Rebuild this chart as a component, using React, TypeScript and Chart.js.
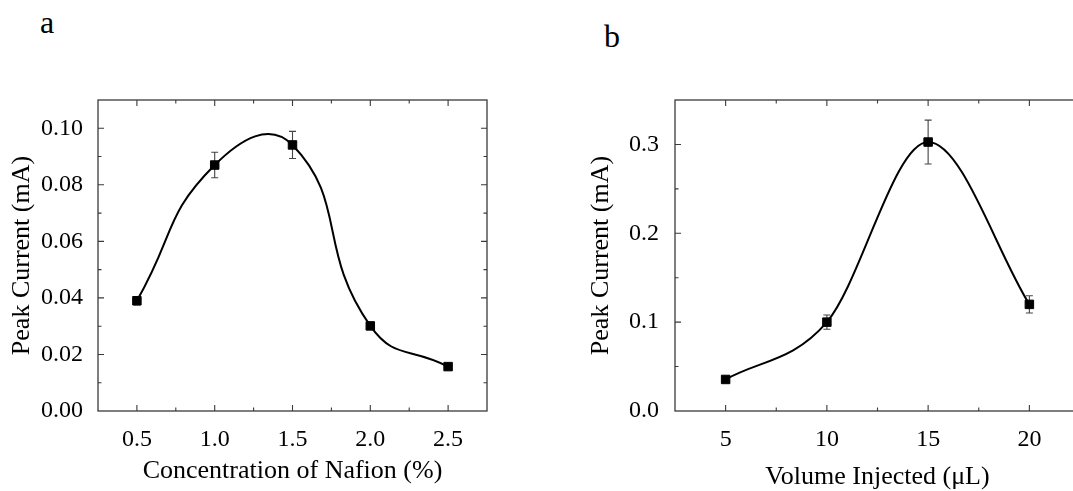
import React, { useEffect, useRef } from "react";
import { Chart, registerables } from "chart.js";

Chart.register(...registerables);

// ---- Data (panel a) ----
const nafionConcentration = [0.5, 1.0, 1.5, 2.0, 2.5];
const nafionPeakCurrent = [0.039, 0.087, 0.0941, 0.0301, 0.0157];
const nafionError = [0.0015, 0.0045, 0.0048, 0.001, 0.0007];
const nafionXTicks = [0.5, 1.0, 1.5, 2.0, 2.5];
const nafionYTicks = [0.0, 0.02, 0.04, 0.06, 0.08, 0.1];

// ---- Data (panel b) ----
const volumeInjected = [5, 10, 15, 20];
const volumePeakCurrent = [0.0355, 0.1, 0.3027, 0.12];
const volumeError = [0.002, 0.008, 0.0247, 0.0097];
const volumeXTicks = [5, 10, 15, 20];
const volumeYTicks = [0.0, 0.1, 0.2, 0.3];

const FONT = "'Liberation Serif', 'Times New Roman', serif";

const frameTicksPlugin = {
  id: "frameTicks",
  beforeDatasetsDraw(chart: any) {
    const { ctx, chartArea } = chart;
    const { left, right, top, bottom } = chartArea;
    const xs = chart.scales.x;
    const ys = chart.scales.y;
    ctx.save();
    ctx.strokeStyle = "#3a3a3a";
    ctx.lineWidth = 1.3;
    ctx.strokeRect(left, top, right - left, bottom - top);
    ctx.lineWidth = 1.1;
    const majorLen = 6;
    const minorLen = 3.5;
    const drawAxisTicks = (scale: any, horizontal: boolean) => {
      const majors = scale.ticks.map((t: any) => t.value);
      const step = majors[1] - majors[0];
      const half = step / 2;
      const kMin = Math.ceil(scale.min / half - 1e-6);
      const kMax = Math.floor(scale.max / half + 1e-6);
      for (let k = kMin; k <= kMax; k++) {
        const v = k * half;
        const isMajor = majors.some((m: number) => Math.abs(m - v) < half * 0.01);
        const len = isMajor ? majorLen : minorLen;
        const p = scale.getPixelForValue(v);
        ctx.beginPath();
        if (horizontal) {
          if (p <= left + 1 || p >= right - 1) continue;
          ctx.moveTo(p, bottom);
          ctx.lineTo(p, bottom - len);
          ctx.moveTo(p, top);
          ctx.lineTo(p, top + len);
        } else {
          if (p >= bottom - 1 || p <= top + 1) continue;
          ctx.moveTo(left, p);
          ctx.lineTo(left + len, p);
          ctx.moveTo(right, p);
          ctx.lineTo(right - len, p);
        }
        ctx.stroke();
      }
    };
    drawAxisTicks(xs, true);
    drawAxisTicks(ys, false);
    ctx.restore();
  },
};

const errorBarsPlugin = {
  id: "errorBars",
  beforeDatasetsDraw(chart: any, _args: any, opts: any) {
    const errors: number[] = opts && opts.errors ? opts.errors : [];
    const { ctx } = chart;
    const xs = chart.scales.x;
    const ys = chart.scales.y;
    const data = chart.data.datasets[0].data as any[];
    ctx.save();
    ctx.strokeStyle = "#444";
    ctx.lineWidth = 1.1;
    data.forEach((pt: any, i: number) => {
      const e = errors[i] || 0;
      const x = xs.getPixelForValue(pt.x);
      const y1 = ys.getPixelForValue(pt.y + e);
      const y2 = ys.getPixelForValue(pt.y - e);
      const cap = 3.5;
      ctx.beginPath();
      ctx.moveTo(x, y1);
      ctx.lineTo(x, y2);
      ctx.moveTo(x - cap, y1);
      ctx.lineTo(x + cap, y1);
      ctx.moveTo(x - cap, y2);
      ctx.lineTo(x + cap, y2);
      ctx.stroke();
    });
    ctx.restore();
  },
};

type PanelCfg = {
  xValues: number[];
  yValues: number[];
  errors: number[];
  xTicks: number[];
  yTicks: number[];
  xMin: number;
  xMax: number;
  yMin: number;
  yMax: number;
  xDecimals: number;
  yDecimals: number;
  xTitle: string;
  yTitle: string;
  paddingRight: number;
  yTitlePad: number;
  xTitlePad: number;
  yTickPad: number;
  tension: number;
  mode: string;
};

function makeConfig(c: PanelCfg): any {
  return {
    type: "line",
    data: {
      datasets: [
        {
          data: c.xValues.map((x, i) => ({ x, y: c.yValues[i] })),
          borderColor: "#000",
          borderWidth: 2,
          backgroundColor: "#000",
          pointStyle: "rect",
          pointRadius: 6,
          pointBorderWidth: 1,
          pointBackgroundColor: "#000",
          pointBorderColor: "#000",
          tension: c.tension,
          cubicInterpolationMode: c.mode,
          fill: false,
        },
      ],
    },
    options: {
      responsive: false,
      animation: false,
      devicePixelRatio: 1,
      layout: { padding: { left: 0, top: 100, right: c.paddingRight, bottom: 0 } },
      plugins: {
        legend: { display: false },
        tooltip: { enabled: false },
        errorBars: { errors: c.errors },
      },
      scales: {
        x: {
          type: "linear",
          min: c.xMin,
          max: c.xMax,
          grid: { display: false },
          border: { display: false },
          afterBuildTicks: (s: any) => {
            s.ticks = c.xTicks.map((v) => ({ value: v }));
          },
          afterFit: (s: any) => {
            s.height = 80;
          },
          ticks: {
            color: "#000",
            padding: 6,
            maxRotation: 0,
            autoSkip: false,
            font: { family: FONT, size: 24 },
            callback: (v: any) => Number(v).toFixed(c.xDecimals),
          },
          title: {
            display: true,
            text: c.xTitle,
            color: "#000",
            font: { family: FONT, size: 26 },
            padding: { top: 0, bottom: c.xTitlePad },
          },
        },
        y: {
          type: "linear",
          min: c.yMin,
          max: c.yMax,
          grid: { display: false },
          border: { display: false },
          afterBuildTicks: (s: any) => {
            s.ticks = c.yTicks.map((v) => ({ value: v }));
          },
          afterFit: (s: any) => {
            s.width = 98;
          },
          ticks: {
            color: "#000",
            padding: c.yTickPad,
            autoSkip: false,
            font: { family: FONT, size: 24 },
            callback: (v: any) => Number(v).toFixed(c.yDecimals),
          },
          title: {
            display: true,
            text: c.yTitle,
            color: "#000",
            font: { family: FONT, size: 26 },
            padding: { top: c.yTitlePad, bottom: 0 },
          },
        },
      },
    },
    plugins: [frameTicksPlugin, errorBarsPlugin],
  };
}

function Panel({ cfg, left, width }: { cfg: PanelCfg; left: number; width: number }) {
  const ref = useRef<HTMLCanvasElement | null>(null);
  useEffect(() => {
    if (!ref.current) return;
    const chart = new Chart(ref.current, makeConfig(cfg));
    return () => chart.destroy();
  }, []);
  return (
    <canvas
      ref={ref}
      width={width}
      height={491}
      style={{ position: "absolute", left, top: 0, width, height: 491 }}
    />
  );
}

const panelA: PanelCfg = {
  xValues: nafionConcentration,
  yValues: nafionPeakCurrent,
  errors: nafionError,
  xTicks: nafionXTicks,
  yTicks: nafionYTicks,
  xMin: 0.25,
  xMax: 2.75,
  yMin: 0,
  yMax: 0.11,
  xDecimals: 1,
  yDecimals: 2,
  xTitle: "Concentration of Nafion (%)",
  yTitle: "Peak Current (mA)",
  paddingRight: 53,
  yTitlePad: 7,
  xTitlePad: 4,
  yTickPad: 7,
  tension: 0.5,
  mode: "default",
};

const panelB: PanelCfg = {
  xValues: volumeInjected,
  yValues: volumePeakCurrent,
  errors: volumeError,
  xTicks: volumeXTicks,
  yTicks: volumeYTicks,
  xMin: 2.5,
  xMax: 22.5,
  yMin: 0,
  yMax: 0.35,
  xDecimals: 0,
  yDecimals: 1,
  xTitle: "Volume Injected (\u03bcL)",
  yTitle: "Peak Current (mA)",
  paddingRight: 7,
  yTitlePad: 9,
  xTitlePad: -2,
  yTickPad: 8,
  tension: 0.4,
  mode: "monotone",
};

export default function App() {
  const labelStyle: React.CSSProperties = {
    position: "absolute",
    fontFamily: FONT,
    fontSize: 32,
    lineHeight: "32px",
    color: "#000",
    margin: 0,
  };
  return (
    <div
      style={{
        position: "absolute",
        left: 0,
        top: 0,
        width: 1073,
        height: 491,
        overflow: "hidden",
        background: "#fff",
      }}
    >
      <div style={{ ...labelStyle, left: 40, top: 6 }}>a</div>
      <div style={{ ...labelStyle, left: 604, top: 20 }}>b</div>
      <Panel cfg={panelA} left={0} width={540} />
      <Panel cfg={panelB} left={577} width={510} />
    </div>
  );
}
